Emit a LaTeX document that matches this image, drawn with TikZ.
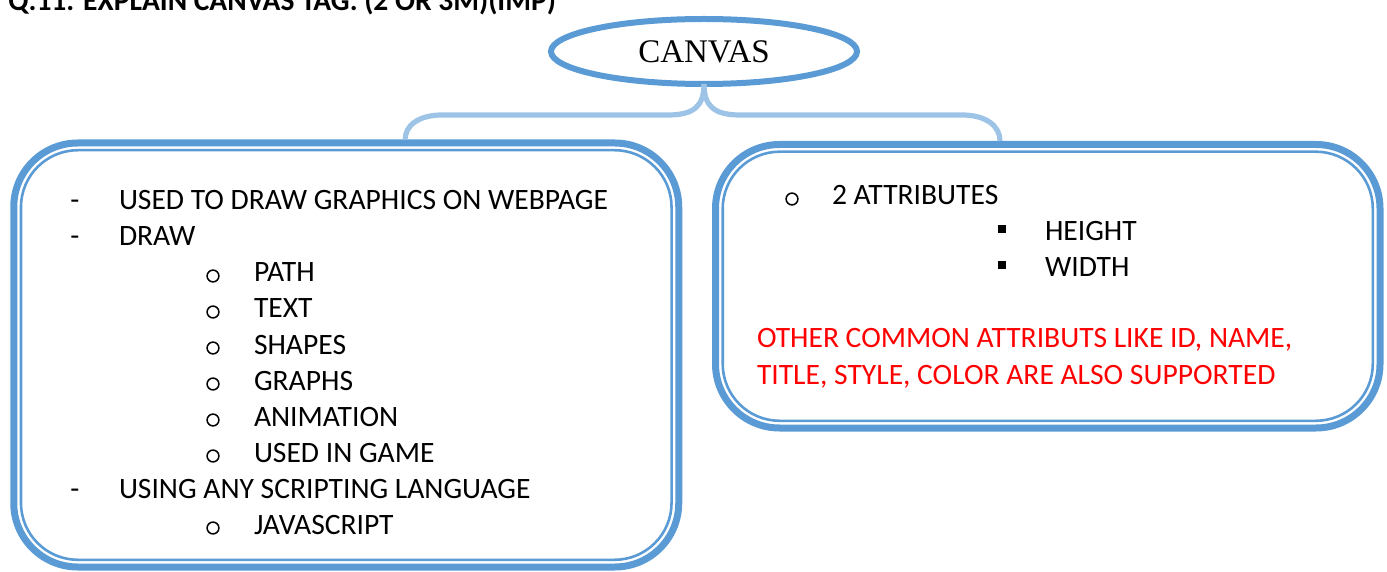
\documentclass[tikz,border=0pt]{standalone}
\usepackage{fontspec}
\setmainfont{Carlito}
\newfontfamily\serifcanvas{Liberation Serif}
\usetikzlibrary{shapes.geometric}
\definecolor{boxblue}{HTML}{5B9BD5}
\definecolor{connblue}{HTML}{9DC3E6}
\definecolor{redtxt}{HTML}{FF0000}
\begin{document}
\begin{tikzpicture}[x=0.5pt,y=-0.5pt,
  txt/.style={anchor=base west, inner sep=0pt, outer sep=0pt, font=\fontsize{14.78pt}{17pt}\selectfont},
  redline/.style={txt, text=redtxt},
  dashbul/.style={anchor=base, inner sep=0pt, outer sep=0pt, font=\fontsize{14.78pt}{17pt}\selectfont},
  circbul/.style={circle, draw=black, line width=0.75pt, minimum size=5.9pt, inner sep=0pt, outer sep=0pt},
  sqbul/.style={fill=black, minimum size=4pt, inner sep=0pt, outer sep=0pt},
  outerbox/.style={draw=boxblue, line width=3.5pt, rounded corners=32pt, inner sep=0pt, outer sep=0pt},
  innerline/.style={draw=boxblue, line width=1.3pt, rounded corners=28.5pt},
  conn/.style={draw=connblue, line width=2.6pt},
  topic/.style={ellipse, draw=boxblue, line width=3pt, inner sep=0pt, outer sep=0pt,
    minimum width=153pt, minimum height=32.5pt, font=\serifcanvas\fontsize{16.5pt}{19pt}\selectfont}
]
\useasboundingbox (0,0) rectangle (1387,572);

% heading
\node[anchor=base west, inner sep=0pt, font=\bfseries\fontsize{14.75pt}{17pt}\selectfont] (head) at (8,11) {Q.11. EXPLAIN CANVAS TAG. (2 OR 3M)(IMP)};

% central topic
\node[topic] (canvas) at (704,51.5) {CANVAS};

% boxes
\node[outerbox, minimum width=332.5pt, minimum height=212pt] (L) at (346.25,355) {};
\node[outerbox, minimum width=332.25pt, minimum height=141.75pt] (R) at (1047.75,286.25) {};
\draw[innerline] ([shift={(3.6pt,-3.6pt)}]L.north west) rectangle ([shift={(-3.6pt,3.6pt)}]L.south east);
\draw[innerline] ([shift={(3.6pt,-3.6pt)}]R.north west) rectangle ([shift={(-3.6pt,3.6pt)}]R.south east);

% connectors
\coordinate (lend) at ([xshift=195.75pt, yshift=1.75pt]L.north west);
\coordinate (rend) at ([xshift=142.25pt, yshift=1.75pt]R.north west);
\draw[conn] (canvas.south) .. controls (704,106) and (694,115) .. (668,115) -- (442,115)
  .. controls (418,115) and (405,126) .. (lend);
\draw[conn] (canvas.south) .. controls (704,106) and (714,115) .. (740,115) -- (962,115)
  .. controls (986,115) and (1000,126) .. (rend);

% left box content
\node[dashbul] (d1) at (75,210) {-};
\node[txt] (t1) at (119,210) {USED TO DRAW GRAPHICS ON WEBPAGE};
\node[dashbul] (d2) at (75,246) {-};
\node[txt] (t2) at (119,246) {DRAW};
\node[circbul] (c1) at (213,276) {};
\node[txt] (t3) at (254,282) {PATH};
\node[circbul] (c2) at (213,312) {};
\node[txt] (t4) at (254,318) {TEXT};
\node[circbul] (c3) at (213,348) {};
\node[txt] (t5) at (254,354) {SHAPES};
\node[circbul] (c4) at (213,384) {};
\node[txt] (t6) at (254,390) {GRAPHS};
\node[circbul] (c5) at (213,420) {};
\node[txt] (t7) at (254,426) {ANIMATION};
\node[circbul] (c6) at (213,456) {};
\node[txt] (t8) at (254,462) {USED IN GAME};
\node[dashbul] (d3) at (75,498) {-};
\node[txt] (t9) at (119,498) {USING ANY SCRIPTING LANGUAGE};
\node[circbul] (c7) at (213,528) {};
\node[txt] (t10) at (254,534) {JAVASCRIPT};

% right box content
\node[circbul] (c8) at (792,199) {};
\node[txt] (r1) at (832,205) {2 ATTRIBUTES};
\node[sqbul] (s1) at (1002,229) {};
\node[txt] (r2) at (1045,241) {HEIGHT};
\node[sqbul] (s2) at (1002,265) {};
\node[txt] (r3) at (1045,277) {WIDTH};
\node[redline] (r4) at (757,348) {OTHER COMMON ATTRIBUTS LIKE ID, NAME,};
\node[redline] (r5) at (757,384) {TITLE, STYLE, COLOR ARE ALSO SUPPORTED};
\end{tikzpicture}
\end{document}
